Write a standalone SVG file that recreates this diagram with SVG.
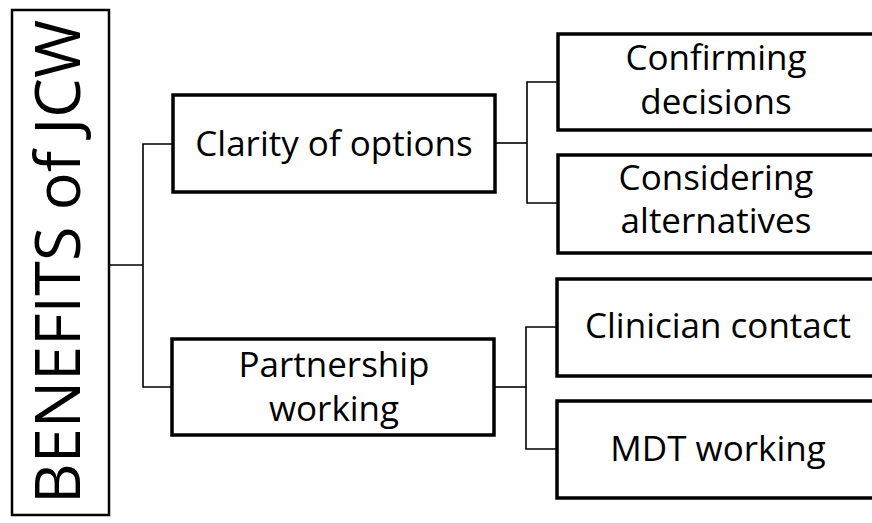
<svg xmlns="http://www.w3.org/2000/svg" width="872" height="523" viewBox="0 0 872 523">
<style>
.box{fill:#fff;stroke:#000;stroke-width:3.5}
.main{fill:#fff;stroke:#000;stroke-width:2.5}
.conn{fill:none;stroke:#000;stroke-width:1.6}
text{font-family:"Open Sans","Liberation Sans",sans-serif;fill:#000;text-anchor:middle}
.t{font-size:35px}
.big{font-size:63px}
</style>
<rect width="872" height="523" fill="#fff"/>
<g id="connectors">
<polyline class="conn" points="109,265 143,265"/>
<polyline class="conn" points="172,144 143,144 143,387 172,387"/>
<polyline class="conn" points="495,143 527,143"/>
<polyline class="conn" points="558,82 527,82 527,203 558,203"/>
<polyline class="conn" points="494,387 526,387"/>
<polyline class="conn" points="557,327 526,327 526,449 557,449"/>
</g>
<g id="root">
<rect class="main" x="12" y="10" width="97" height="505"/>
<text class="big" transform="translate(80,262) rotate(-90)">BENEFITS of JCW</text>
</g>
<g id="clarity">
<rect class="box" x="173" y="95" width="322" height="97"/>
<text class="t" x="334" y="156">Clarity of options</text>
</g>
<g id="partnership">
<rect class="box" x="172" y="339" width="322" height="96"/>
<text class="t" x="334" y="377">Partnership</text>
<text class="t" x="334" y="421">working</text>
</g>
<g id="confirming">
<rect class="box" x="558" y="34" width="330" height="96"/>
<text class="t" x="716" y="70">Confirming</text>
<text class="t" x="716" y="114">decisions</text>
</g>
<g id="considering">
<rect class="box" x="558" y="155" width="330" height="98"/>
<text class="t" x="716" y="190">Considering</text>
<text class="t" x="716" y="233">alternatives</text>
</g>
<g id="clinician">
<rect class="box" x="557" y="279" width="330" height="97"/>
<text class="t" x="718" y="338">Clinician contact</text>
</g>
<g id="mdt">
<rect class="box" x="557" y="401" width="330" height="97"/>
<text class="t" x="718" y="461">MDT working</text>
</g>
</svg>
